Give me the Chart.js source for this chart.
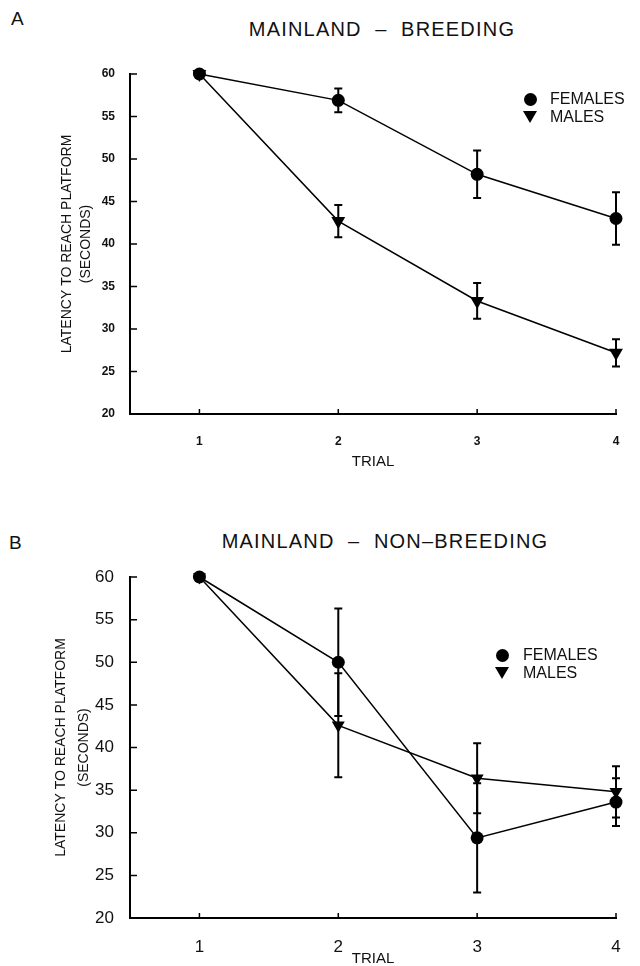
<!DOCTYPE html>
<html>
<head>
<meta charset="utf-8">
<script src="https://cdn.jsdelivr.net/npm/chart.js@4.4.1/dist/chart.umd.min.js"></script>
<style>
  body { margin: 0; background: #fff; }
  #page { position: relative; width: 640px; height: 966px; overflow: hidden; font-family: "Liberation Sans", Arial, sans-serif; color: #111; }
  canvas { position: absolute; left: 0; }
  .txt { position: absolute; white-space: nowrap; line-height: 20px; }
  .title { font-size: 20px; letter-spacing: 1.2px; transform: translateX(-50%); }
  .panel { font-size: 19px; }
  .leg { position: absolute; font-size: 16px; line-height: 16px; }
  .dot { position: absolute; width: 13px; height: 13px; border-radius: 50%; background: #000; }
  .tri { position: absolute; width: 0; height: 0; border-left: 7px solid transparent; border-right: 7px solid transparent; border-top: 12px solid #000; }
</style>
</head>
<body>
<div id="page">
  <div class="txt panel" style="left:11px;top:9px;">A</div>
  <div class="txt title" style="left:382px;top:19px;">MAINLAND &nbsp;–&nbsp; BREEDING</div>
  <canvas id="chartA" width="640" height="480" style="top:0;"></canvas>
  <div class="dot" style="left:524px;top:93px;"></div>
  <div class="leg" style="left:550px;top:91px;">FEMALES</div>
  <div class="tri" style="left:523px;top:111px;"></div>
  <div class="leg" style="left:550px;top:109px;">MALES</div>

  <div class="txt panel" style="left:9px;top:533px;">B</div>
  <div class="txt title" style="left:385px;top:531px;">MAINLAND &nbsp;–&nbsp; NON–BREEDING</div>
  <canvas id="chartB" width="640" height="486" style="top:480px;"></canvas>
  <div class="dot" style="left:496px;top:649px;"></div>
  <div class="leg" style="left:523px;top:647px;">FEMALES</div>
  <div class="tri" style="left:495px;top:667px;"></div>
  <div class="leg" style="left:523px;top:665px;">MALES</div>
</div>
<script>
var trials = [1, 2, 3, 4];
var yTicks = [20, 25, 30, 35, 40, 45, 50, 55, 60];

// A: mainland, breeding
var femalesA = [60, 56.9, 48.2, 43.0];
var femalesErrA = [0, 1.4, 2.8, 3.1];
var malesA = [60, 42.7, 33.3, 27.2];
var malesErrA = [0, 1.9, 2.1, 1.6];

// B: mainland, non-breeding
var femalesB = [60, 50.0, 29.4, 33.6];
var femalesErrB = [0, 6.3, 6.4, 2.8];
var malesB = [60, 42.6, 36.4, 34.8];
var malesErrB = [0, 6.1, 4.1, 3.0];

var yTitle = ['LATENCY TO REACH PLATFORM', '(SECONDS)'];

function points(values) {
    return trials.map(function(t, i) { return { x: t, y: values[i] }; });
}

// vertical error bars with caps
var errorBars = {
    id: 'errorBars',
    afterDatasetsDraw: function(chart) {
        var ctx = chart.ctx;
        var yScale = chart.scales.y;
        chart.data.datasets.forEach(function(ds, i) {
            var meta = chart.getDatasetMeta(i);
            ctx.save();
            ctx.strokeStyle = '#000';
            ctx.lineWidth = 2;
            meta.data.forEach(function(pt, j) {
                var e = ds.err[j];
                if (!e) return;
                var v = ds.data[j].y;
                var top = yScale.getPixelForValue(v + e);
                var bot = yScale.getPixelForValue(v - e);
                ctx.beginPath();
                ctx.moveTo(pt.x, top); ctx.lineTo(pt.x, bot);
                ctx.moveTo(pt.x - 4, top); ctx.lineTo(pt.x + 4, top);
                ctx.moveTo(pt.x - 4, bot); ctx.lineTo(pt.x + 4, bot);
                ctx.stroke();
            });
            ctx.restore();
        });
    }
};

// tick marks pointing into the plot
var innerTicks = {
    id: 'innerTicks',
    afterDraw: function(chart) {
        var ctx = chart.ctx, area = chart.chartArea;
        var xs = chart.scales.x, ys = chart.scales.y;
        ctx.save();
        ctx.strokeStyle = '#000';
        ctx.lineWidth = 1.5;
        ctx.beginPath();
        xs.ticks.forEach(function(t) {
            var px = xs.getPixelForValue(t.value);
            ctx.moveTo(px, area.bottom); ctx.lineTo(px, area.bottom - 5);
        });
        ys.ticks.forEach(function(t) {
            var py = ys.getPixelForValue(t.value);
            ctx.moveTo(area.left, py); ctx.lineTo(area.left + 7, py);
        });
        ctx.stroke();
        ctx.restore();
    }
};

function makeChart(id, females, femErr, males, maleErr, cfg) {
    var tickFont = { family: 'Liberation Sans', size: cfg.tickSize, weight: cfg.tickWeight };
    return new Chart(document.getElementById(id), {
        type: 'line',
        data: {
            datasets: [ {
                label: 'FEMALES',
                data: points(females),
                err: femErr,
                borderColor: '#000',
                borderWidth: 1.5,
                pointStyle: 'circle',
                pointRadius: 6.5,
                pointBackgroundColor: '#000',
                pointBorderWidth: 0,
                clip: false
            }, {
                label: 'MALES',
                data: points(males),
                err: maleErr,
                borderColor: '#000',
                borderWidth: 1.5,
                pointStyle: 'triangle',
                pointRotation: 180,
                pointRadius: cfg.triRadius,
                pointBackgroundColor: '#000',
                pointBorderWidth: 0,
                clip: false
            } ]
        },
        options: {
            responsive: false,
            animation: false,
            events: [],
            layout: { padding: { top: cfg.top, right: 24, left: 0, bottom: 0 } },
            plugins: { legend: { display: false }, tooltip: { enabled: false } },
            scales: {
                x: {
                    type: 'linear',
                    min: 0.5,
                    max: 4,
                    afterBuildTicks: function(scale) {
                        scale.ticks = trials.map(function(t) { return { value: t }; });
                    },
                    afterFit: function(scale) { scale.height = cfg.xHeight; },
                    grid: { display: false },
                    border: { color: '#000', width: 2 },
                    ticks: { color: '#111', font: tickFont, padding: cfg.xPad, maxRotation: 0 },
                    title: {
                        display: true,
                        text: 'TRIAL',
                        color: '#111',
                        font: { family: 'Liberation Sans', size: 15, lineHeight: cfg.trialLH },
                        padding: { top: 0, bottom: cfg.trialPad }
                    }
                },
                y: {
                    type: 'linear',
                    min: 20,
                    max: 60,
                    afterBuildTicks: function(scale) {
                        scale.ticks = yTicks.map(function(v) { return { value: v }; });
                    },
                    afterFit: function(scale) { scale.width = 130; },
                    grid: { display: false },
                    border: { color: '#000', width: 2 },
                    ticks: { color: '#111', font: tickFont, padding: cfg.yPad },
                    title: {
                        display: true,
                        text: yTitle,
                        color: '#111',
                        font: { family: 'Liberation Sans', size: 14, lineHeight: cfg.yTitleLH },
                        padding: { top: cfg.yTitlePad, bottom: 0 }
                    }
                }
            }
        },
        plugins: [ errorBars, innerTicks ]
    });
}

makeChart('chartA', femalesA, femalesErrA, malesA, malesErrA, {
    top: 74, xHeight: 66, tickSize: 12, tickWeight: 'bold', triRadius: 8,
    xPad: 12, yPad: 7, trialLH: 1.2, trialPad: 9, yTitleLH: 1.4, yTitlePad: 57
});

makeChart('chartB', femalesB, femalesErrB, malesB, malesErrB, {
    top: 97, xHeight: 48, tickSize: 17, tickWeight: 'normal', triRadius: 7.5,
    xPad: 11, yPad: 8, trialLH: 1.0, trialPad: 0, yTitleLH: 1.64, yTitlePad: 50
});
</script>
</body>
</html>
